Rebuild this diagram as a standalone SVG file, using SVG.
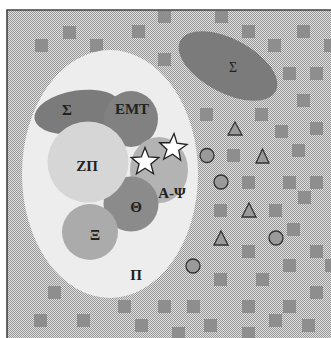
<svg xmlns="http://www.w3.org/2000/svg" width="331" height="338" viewBox="0 0 331 338">
<style>
.sq{fill:#8e8e8e}
.mk{fill:#9a9a9a;stroke:#333;stroke-width:1.3}
.lb{font-family:"Liberation Serif","DejaVu Serif",serif;font-weight:bold;font-size:15px;fill:#222;text-anchor:middle}
.star{fill:#fff;stroke:#222;stroke-width:1.3;stroke-linejoin:miter}
</style>
<defs>
<pattern id="dith" patternUnits="userSpaceOnUse" x="0" y="0" width="2" height="2">
<rect width="2" height="2" fill="#e0e0e0"/>
<rect width="1" height="1" fill="#979797"/>
<rect x="1" y="1" width="1" height="1" fill="#979797"/>
</pattern>
<path id="star" d="M0,-14.5 L3.65,-5.02 L13.79,-4.48 L5.9,1.92 L8.53,11.73 L0,6.2 L-8.53,11.73 L-5.9,1.92 L-13.79,-4.48 L-3.65,-5.02Z"/>
</defs>
<rect width="331" height="338" fill="#fff"/>
<g id="background">
<rect x="7" y="10" width="324" height="328" fill="url(#dith)"/>
<path d="M7,338 V10 H331" fill="none" stroke="#444" stroke-width="1.6"/>
</g>
<g id="squares">
<rect class="sq" x="35" y="39" width="13" height="13"/>
<rect class="sq" x="63" y="26" width="13" height="13"/>
<rect class="sq" x="90" y="39" width="13" height="13"/>
<rect class="sq" x="132" y="25" width="13" height="13"/>
<rect class="sq" x="158" y="11" width="13" height="12"/>
<rect class="sq" x="158" y="53" width="13" height="13"/>
<rect class="sq" x="215" y="11" width="13" height="12"/>
<rect class="sq" x="242" y="25" width="13" height="13"/>
<rect class="sq" x="297" y="25" width="13" height="13"/>
<rect class="sq" x="268" y="39" width="13" height="13"/>
<rect class="sq" x="324" y="39" width="13" height="13"/>
<rect class="sq" x="283" y="67" width="13" height="13"/>
<rect class="sq" x="310" y="67" width="13" height="13"/>
<rect class="sq" x="297" y="94" width="13" height="13"/>
<rect class="sq" x="200" y="108" width="13" height="13"/>
<rect class="sq" x="255" y="108" width="13" height="13"/>
<rect class="sq" x="275" y="125" width="13" height="13"/>
<rect class="sq" x="310" y="122" width="13" height="13"/>
<rect class="sq" x="227" y="149" width="13" height="13"/>
<rect class="sq" x="292" y="144" width="13" height="13"/>
<rect class="sq" x="242" y="176" width="13" height="13"/>
<rect class="sq" x="283" y="176" width="13" height="13"/>
<rect class="sq" x="310" y="176" width="13" height="13"/>
<rect class="sq" x="298" y="191" width="13" height="13"/>
<rect class="sq" x="214" y="204" width="13" height="13"/>
<rect class="sq" x="269" y="204" width="13" height="13"/>
<rect class="sq" x="287" y="223" width="13" height="13"/>
<rect class="sq" x="242" y="245" width="13" height="13"/>
<rect class="sq" x="310" y="245" width="13" height="13"/>
<rect class="sq" x="283" y="259" width="13" height="13"/>
<rect class="sq" x="325" y="259" width="13" height="13"/>
<rect class="sq" x="214" y="273" width="13" height="13"/>
<rect class="sq" x="256" y="273" width="13" height="13"/>
<rect class="sq" x="310" y="286" width="13" height="13"/>
<rect class="sq" x="158" y="300" width="13" height="13"/>
<rect class="sq" x="187" y="300" width="13" height="13"/>
<rect class="sq" x="242" y="300" width="13" height="13"/>
<rect class="sq" x="283" y="300" width="13" height="13"/>
<rect class="sq" x="204" y="319" width="13" height="13"/>
<rect class="sq" x="269" y="314" width="13" height="13"/>
<rect class="sq" x="302" y="319" width="13" height="13"/>
<rect class="sq" x="172" y="327" width="13" height="13"/>
<rect class="sq" x="242" y="327" width="13" height="13"/>
<rect class="sq" x="48" y="286" width="13" height="13"/>
<rect class="sq" x="34" y="314" width="13" height="13"/>
<rect class="sq" x="77" y="314" width="13" height="13"/>
<rect class="sq" x="118" y="300" width="13" height="13"/>
<rect class="sq" x="135" y="319" width="13" height="13"/>
</g>
<g id="node-pi">
<ellipse cx="110" cy="174" rx="88" ry="124" fill="#ededed"/>
<text class="lb" x="136" y="279.5">Π</text>
</g>
<g id="node-sigma-right">
<ellipse cx="228" cy="66" rx="54" ry="27" transform="rotate(28 228 66)" fill="#7b7b7b"/>
<text class="lb" x="233" y="72" style="font-weight:normal;font-size:14px">Σ</text>
</g>
<g id="node-sigma-left">
<ellipse cx="78" cy="112" rx="44" ry="21.5" transform="rotate(-9 78 112)" fill="#7b7b7b"/>
<text class="lb" x="67" y="115">Σ</text>
</g>
<g id="node-emt">
<ellipse cx="131" cy="119" rx="27" ry="28" fill="#818181"/>
<text class="lb" x="132" y="113.5">EMT</text>
</g>
<g id="node-apsi">
<ellipse cx="159" cy="170" rx="29" ry="33" fill="#b3b3b3"/>
<text class="lb" x="172" y="197.5">Α-Ψ</text>
</g>
<g id="node-theta">
<circle cx="131" cy="204" r="27.5" fill="#8b8b8b"/>
<text class="lb" x="136" y="211.5">Θ</text>
</g>
<g id="node-zpi">
<circle cx="88" cy="162" r="40.5" fill="#d6d6d6"/>
<text class="lb" x="87" y="170.5">ΖΠ</text>
</g>
<g id="node-xi">
<circle cx="90" cy="232" r="28" fill="#ababab"/>
<text class="lb" x="95" y="239.5">Ξ</text>
</g>
<g id="stars">
<use href="#star" class="star" transform="translate(145,162)"/>
<use href="#star" class="star" transform="translate(173,148) rotate(4)"/>
</g>
<g id="markers">
<polygon class="mk" points="235,122 228,135 242,135"/>
<polygon class="mk" points="262.5,149 256,163 269,163"/>
<polygon class="mk" points="249,203 242,217 256,217"/>
<polygon class="mk" points="221,231 214,245 228,245"/>
<circle class="mk" cx="207" cy="155.5" r="7"/>
<circle class="mk" cx="221" cy="182" r="7"/>
<circle class="mk" cx="276" cy="238" r="7"/>
<circle class="mk" cx="193" cy="266" r="7"/>
</g>
</svg>
